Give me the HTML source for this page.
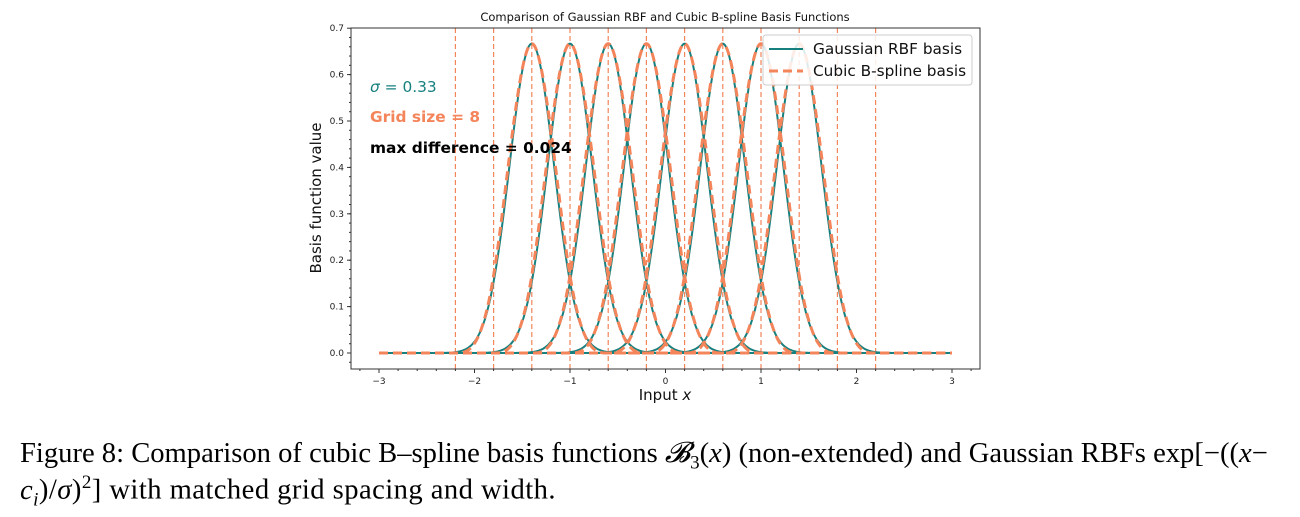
<!DOCTYPE html>
<html><head><meta charset="utf-8"><style>
body{margin:0;background:#fff;width:1300px;height:517px;overflow:hidden;position:relative}
svg{position:absolute;left:0;top:0}
.cap{position:absolute;left:20px;font-family:"Liberation Serif",serif;font-size:28.6px;color:#000;white-space:nowrap}
</style></head><body>
<svg id="chart" width="1300" height="420" font-family="DejaVu Sans, Liberation Sans, sans-serif"></svg>
<div class="cap" style="top:438px">Figure 8: Comparison of cubic B–spline basis functions <i>𝓑</i><sub style="font-size:19px">3</sub>(<i>x</i>) (non-extended) and Gaussian RBFs exp[−((<i>x</i>−</div>
<div class="cap" style="top:472px;letter-spacing:0.45px"><i>c<sub style="font-size:19px">i</sub></i>)/<i>σ</i>)<sup style="font-size:19px">2</sup>] with matched grid spacing and width.</div>
<script>
const centers=[-1.4,-1.0,-0.6,-0.2,0.2,0.6,1.0,1.4];
const knots=[-2.2,-1.8,-1.4,-1.0,-0.6,-0.2,0.2,0.6,1.0,1.4,1.8,2.2];
const sigma=0.33;
const spacing=0.4;
const xTicks=[-3,-2,-1,0,1,2,3];
const yTicks=[0,0.1,0.2,0.3,0.4,0.5,0.6,0.7];
const L=351,R=980,T=28,B=369;
const xs=v=>665.5+v*95.5;
const ys=v=>353-v*464;
const svg=document.getElementById('chart');
const NS='http://www.w3.org/2000/svg';
function mk(t,a,p){const e=document.createElementNS(NS,t);for(const k in a)e.setAttribute(k,a[k]);(p||svg).appendChild(e);return e;}
const teal='#16807f',orange='#f4845a';
knots.forEach(k=>{const l=mk('line',{x1:xs(k),x2:xs(k),y1:T,y2:B,stroke:orange,'stroke-width':1.2,'stroke-dasharray':'5,3'});

});
function bs(x,c){const t=Math.abs((x-c)/spacing);if(t>=2)return 0;if(t<1)return 2/3-t*t+t*t*t/2;return Math.pow(2-t,3)/6;}
function gs(x,c){return (2/3)*Math.exp(-Math.pow((x-c)/sigma,2));}
function path(f,c){let d='';for(let i=0;i<=600;i++){const x=-3+i*0.01;d+=(i?'L':'M')+xs(x).toFixed(2)+','+ys(f(x,c)).toFixed(2);}return d;}
centers.forEach(c=>{const p=mk('path',{d:path(gs,c),fill:'none',stroke:teal,'stroke-width':2});

});
centers.forEach(c=>{const p=mk('path',{d:path(bs,c),fill:'none',stroke:orange,'stroke-width':3,'stroke-dasharray':'9,5'});

});
const fr=mk('rect',{x:L,y:T,width:R-L,height:B-T,fill:'none',stroke:'#333','stroke-width':1});


xTicks.forEach(v=>{mk('line',{x1:xs(v),x2:xs(v),y1:B,y2:B+4,stroke:'#333'});
const t=mk('text',{x:xs(v),y:B+15,'font-size':9,'text-anchor':'middle',fill:'#222'});t.textContent=(v<0?'−':'')+Math.abs(v);

});
for(let v=-3.2;v<=3.21;v+=0.2)mk('line',{x1:xs(v),x2:xs(v),y1:B,y2:B+2,stroke:'#333'});
yTicks.forEach(v=>{mk('line',{x1:L-4,x2:L,y1:ys(v),y2:ys(v),stroke:'#333'});
const t=mk('text',{x:L-7,y:ys(v)+3,'font-size':9,'text-anchor':'end',fill:'#222'});t.textContent=v.toFixed(1);

});
for(let v=-0.02;v<=0.7;v+=0.02)mk('line',{x1:L-2,x2:L,y1:ys(v),y2:ys(v),stroke:'#333'});
let t=mk('text',{x:665,y:21,'font-size':11.5,'text-anchor':'middle',fill:'#111'});t.textContent='Comparison of Gaussian RBF and Cubic B-spline Basis Functions';

t=mk('text',{x:665,y:400,'font-size':15,'text-anchor':'middle',fill:'#111'});t.innerHTML='Input <tspan font-style="italic">x</tspan>';

t=mk('text',{x:321,y:198,'font-size':15,'text-anchor':'middle',fill:'#111',transform:'rotate(-90 321 198)'});t.textContent='Basis function value';

t=mk('text',{x:370,y:92,'font-size':15.4,fill:teal});t.innerHTML='<tspan font-style="italic">σ</tspan> = 0.33';

t=mk('text',{x:370,y:122,'font-size':15.4,'font-weight':'bold',fill:orange});t.textContent='Grid size = 8';

t=mk('text',{x:370,y:153,'font-size':15.4,'font-weight':'bold',fill:'#000'});t.textContent='max difference = 0.024';

const lg=mk('g',{});


mk('rect',{x:763,y:35,width:209,height:50,rx:3,fill:'rgba(255,255,255,0.85)',stroke:'#ccc'},lg);
mk('line',{x1:769,x2:803,y1:49,y2:49,stroke:teal,'stroke-width':2},lg);
mk('line',{x1:769,x2:803,y1:71,y2:71,stroke:orange,'stroke-width':3,'stroke-dasharray':'9,5'},lg);
t=mk('text',{x:813,y:54,'font-size':15.3,fill:'#111'},lg);t.textContent='Gaussian RBF basis';

t=mk('text',{x:813,y:76,'font-size':15.3,fill:'#111'},lg);t.textContent='Cubic B-spline basis';

</script>
</body></html>
